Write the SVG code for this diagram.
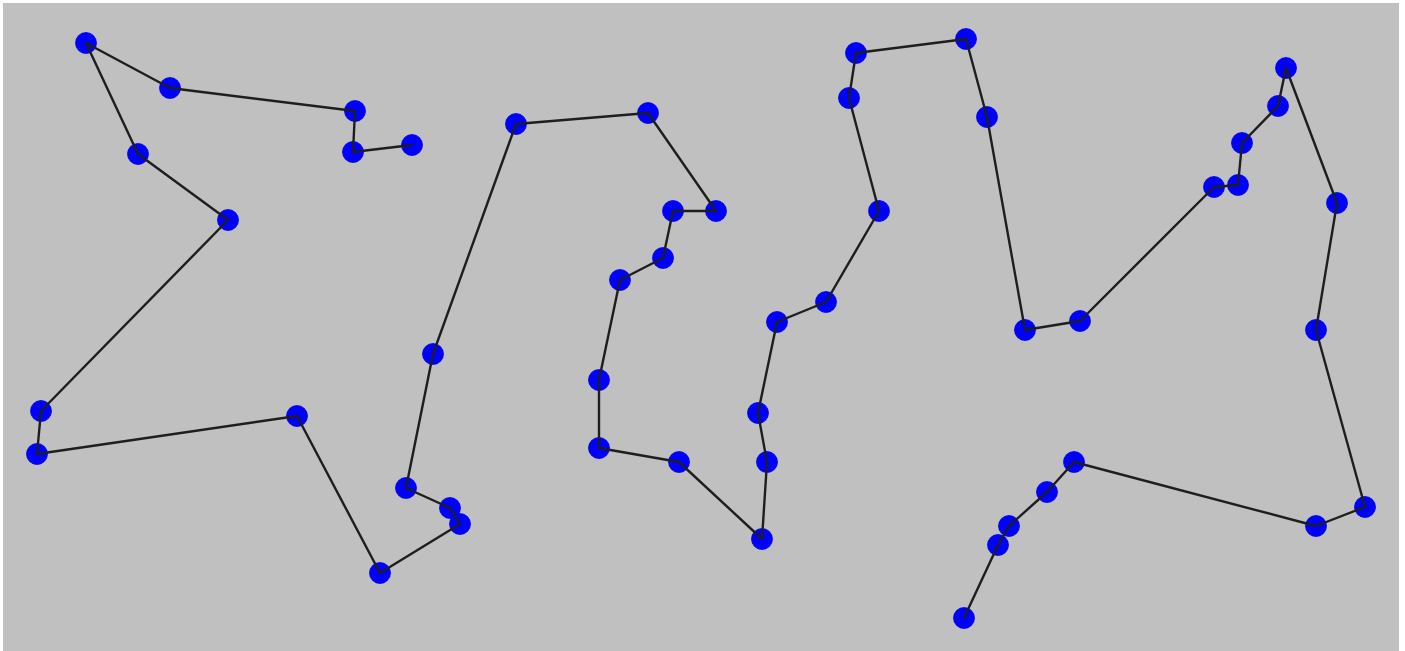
<svg xmlns="http://www.w3.org/2000/svg" width="1405" height="651" viewBox="0 0 1405 651">
<style>
.n{fill:#0000ff;stroke:#0000e8;stroke-width:0.8}
.e{fill:none;stroke:#1e1e1e;stroke-width:2.4;stroke-linejoin:round;stroke-linecap:round}
</style>
<rect x="0" y="0" width="1405" height="651" fill="#ffffff"/>
<rect x="3" y="3" width="1396" height="648" fill="#c0c0c0"/>
<g id="nodes">
<g id="n1"><circle class="n" cx="412" cy="145" r="10.5"/></g>
<g id="n2"><circle class="n" cx="353" cy="152" r="10.5"/></g>
<g id="n3"><circle class="n" cx="355" cy="111" r="10.5"/></g>
<g id="n4"><circle class="n" cx="170" cy="88" r="10.5"/></g>
<g id="n5"><circle class="n" cx="86" cy="43" r="10.5"/></g>
<g id="n6"><circle class="n" cx="138" cy="154" r="10.5"/></g>
<g id="n7"><circle class="n" cx="228" cy="220" r="10.5"/></g>
<g id="n8"><circle class="n" cx="41" cy="411" r="10.5"/></g>
<g id="n9"><circle class="n" cx="37" cy="454" r="10.5"/></g>
<g id="n10"><circle class="n" cx="297" cy="416" r="10.5"/></g>
<g id="n11"><circle class="n" cx="380" cy="573" r="10.5"/></g>
<g id="n12"><circle class="n" cx="460" cy="524" r="10.5"/></g>
<g id="n13"><circle class="n" cx="450" cy="508" r="10.5"/></g>
<g id="n14"><circle class="n" cx="406" cy="488" r="10.5"/></g>
<g id="n15"><circle class="n" cx="433" cy="354" r="10.5"/></g>
<g id="n16"><circle class="n" cx="516" cy="124" r="10.5"/></g>
<g id="n17"><circle class="n" cx="648" cy="113" r="10.5"/></g>
<g id="n18"><circle class="n" cx="716" cy="211" r="10.5"/></g>
<g id="n19"><circle class="n" cx="673" cy="211" r="10.5"/></g>
<g id="n20"><circle class="n" cx="663" cy="258" r="10.5"/></g>
<g id="n21"><circle class="n" cx="620" cy="280" r="10.5"/></g>
<g id="n22"><circle class="n" cx="599" cy="380" r="10.5"/></g>
<g id="n23"><circle class="n" cx="599" cy="448" r="10.5"/></g>
<g id="n24"><circle class="n" cx="679" cy="462" r="10.5"/></g>
<g id="n25"><circle class="n" cx="762" cy="539" r="10.5"/></g>
<g id="n26"><circle class="n" cx="767" cy="462" r="10.5"/></g>
<g id="n27"><circle class="n" cx="758" cy="413" r="10.5"/></g>
<g id="n28"><circle class="n" cx="777" cy="322" r="10.5"/></g>
<g id="n29"><circle class="n" cx="826" cy="302" r="10.5"/></g>
<g id="n30"><circle class="n" cx="879" cy="211" r="10.5"/></g>
<g id="n31"><circle class="n" cx="849" cy="98" r="10.5"/></g>
<g id="n32"><circle class="n" cx="856" cy="53" r="10.5"/></g>
<g id="n33"><circle class="n" cx="966" cy="39" r="10.5"/></g>
<g id="n34"><circle class="n" cx="987" cy="117" r="10.5"/></g>
<g id="n35"><circle class="n" cx="1025" cy="330" r="10.5"/></g>
<g id="n36"><circle class="n" cx="1080" cy="321" r="10.5"/></g>
<g id="n37"><circle class="n" cx="1214" cy="187" r="10.5"/></g>
<g id="n38"><circle class="n" cx="1238" cy="185" r="10.5"/></g>
<g id="n39"><circle class="n" cx="1242" cy="143" r="10.5"/></g>
<g id="n40"><circle class="n" cx="1278" cy="106" r="10.5"/></g>
<g id="n41"><circle class="n" cx="1286" cy="68" r="10.5"/></g>
<g id="n42"><circle class="n" cx="1337" cy="203" r="10.5"/></g>
<g id="n43"><circle class="n" cx="1316" cy="330" r="10.5"/></g>
<g id="n44"><circle class="n" cx="1365" cy="507" r="10.5"/></g>
<g id="n45"><circle class="n" cx="1316" cy="526" r="10.5"/></g>
<g id="n46"><circle class="n" cx="1074" cy="462" r="10.5"/></g>
<g id="n47"><circle class="n" cx="1047" cy="492" r="10.5"/></g>
<g id="n48"><circle class="n" cx="1009" cy="526" r="10.5"/></g>
<g id="n49"><circle class="n" cx="998" cy="545" r="10.5"/></g>
<g id="n50"><circle class="n" cx="964" cy="618" r="10.5"/></g>
</g>
<g id="connectors">
<polyline class="e" points="412,145 353,152 355,111 170,88 86,43 138,154 228,220 41,411 37,454 297,416 380,573 460,524 450,508 406,488 433,354 516,124 648,113 716,211 673,211 663,258 620,280 599,380 599,448 679,462 762,539 767,462 758,413 777,322 826,302 879,211 849,98 856,53 966,39 987,117 1025,330 1080,321 1214,187 1238,185 1242,143 1278,106 1286,68 1337,203 1316,330 1365,507 1316,526 1074,462 1047,492 1009,526 998,545 964,618"/>
</g>
</svg>
